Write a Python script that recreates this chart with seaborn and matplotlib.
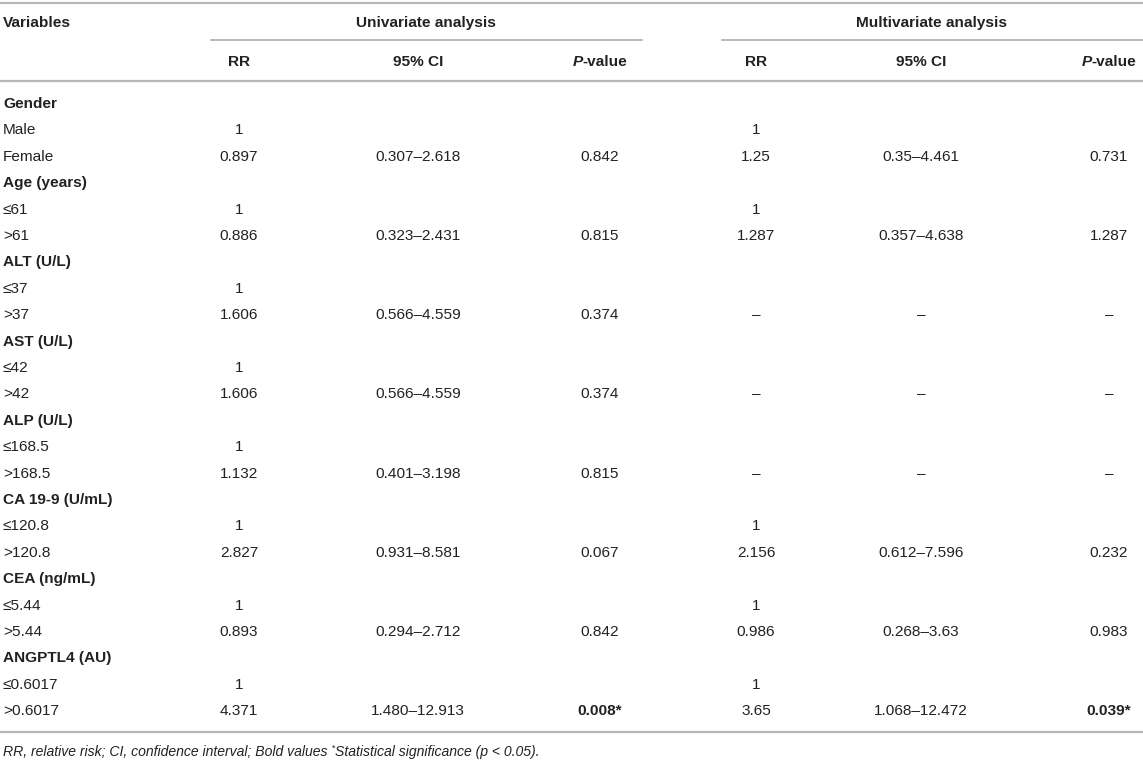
import numpy as np
import pandas as pd
import matplotlib
matplotlib.use("Agg")
import matplotlib.pyplot as plt
import seaborn as sns

# 表のデータ
groups = ["Gender", "Age (years)", "ALT (U/L)", "AST (U/L)", "ALP (U/L)",
          "CA 19-9 (U/mL)", "CEA (ng/mL)", "ANGPTL4 (AU)"]
ref_levels = ["Male", "≤61", "≤37", "≤42", "≤168.5", "≤120.8", "≤5.44", "≤0.6017"]
cmp_levels = ["Female", ">61", ">37", ">42", ">168.5", ">120.8", ">5.44", ">0.6017"]
uni_rr = ["0.897", "0.886", "1.606", "1.606", "1.132", "2.827", "0.893", "4.371"]
uni_ci = ["0.307–2.618", "0.323–2.431", "0.566–4.559", "0.566–4.559",
          "0.401–3.198", "0.931–8.581", "0.294–2.712", "1.480–12.913"]
uni_p = ["0.842", "0.815", "0.374", "0.374", "0.815", "0.067", "0.842", "0.008*"]
multi_rr = ["1.25", "1.287", "–", "–", "–", "2.156", "0.986", "3.65"]
multi_ci = ["0.35–4.461", "0.357–4.638", "–", "–", "–",
            "0.612–7.596", "0.268–3.63", "1.068–12.472"]
multi_p = ["0.731", "1.287", "–", "–", "–", "0.232", "0.983", "0.039*"]
in_multi = [True, True, False, False, False, True, True, True]
significant = [False] * 7 + [True]

col_names = ["RR", "95% CI", "P-value", "RR", "95% CI", "P-value"]
footnote = "RR, relative risk; CI, confidence interval; Bold values "
footnote2 = "Statistical significance (p < 0.05)."

# 行を組み立てる
rows = []
for i, g in enumerate(groups):
    rows.append(dict(label=g, kind="group", vals=[""] * 6, bold=False))
    rows.append(dict(label=ref_levels[i], kind="level",
                     vals=["1", "", "", "1" if in_multi[i] else "", "", ""], bold=False))
    rows.append(dict(label=cmp_levels[i], kind="level",
                     vals=[uni_rr[i], uni_ci[i], uni_p[i],
                           multi_rr[i], multi_ci[i], multi_p[i]],
                     bold=significant[i]))
df = pd.DataFrame(rows)

sns.set_theme(style="white")
plt.rcParams["font.family"] = ["Liberation Sans", "DejaVu Sans"]

W, H = 1143, 762
fig = plt.figure(figsize=(W / 100, H / 100), dpi=100)
ax = fig.add_axes([0, 0, 1, 1])
ax.set_xlim(0, W)
ax.set_ylim(H, 0)
ax.axis("off")

txt = "#222222"
rule = "#b8b8b8"
fs = 11.1
col_x = [239, 418, 600, 756, 921, 1109]
row0, row_h = 104, 26.4

# 罫線
ax.axhline(3, color=rule, lw=1.6)
ax.plot([211, 642], [40, 40], color=rule, lw=1.4)
ax.plot([722, W], [40, 40], color=rule, lw=1.4)
ax.axhline(81, color=rule, lw=1.6)
ax.axhline(732, color=rule, lw=1.6)

# ヘッダー
ax.text(3, 23, "Variables", fontsize=fs, fontweight="bold", color=txt, va="center")
ax.text(426, 23, "Univariate analysis", fontsize=fs, fontweight="bold",
        color=txt, va="center", ha="center")
ax.text(932, 23, "Multivariate analysis", fontsize=fs, fontweight="bold",
        color=txt, va="center", ha="center")

renderer = fig.canvas.get_renderer()

def pieces(x, y, parts, ha="center", **kw):
    objs = [ax.text(0, y, s, va="center", ha="left", **st, **kw) for s, st in parts]
    widths = [o.get_window_extent(renderer).width for o in objs]
    total = sum(widths)
    start = x - total / 2 if ha == "center" else x
    for o, w in zip(objs, widths):
        o.set_x(start)
        start += w
    return objs

for j, name in enumerate(col_names):
    if name == "P-value":
        pieces(col_x[j], 62, [("P", dict(fontstyle="italic")), ("-value", {})],
               fontsize=fs, fontweight="bold", color=txt)
    else:
        ax.text(col_x[j], 62, name, fontsize=fs, fontweight="bold", color=txt,
                ha="center", va="center")

# 本体
for i, r in df.iterrows():
    y = row0 + i * row_h
    ax.text(3, y, r["label"], fontsize=fs, color=txt, va="center",
            fontweight="bold" if r["kind"] == "group" else "normal")
    for j, v in enumerate(r["vals"]):
        if not v:
            continue
        bold = r["bold"] and j in (2, 5)
        ax.text(col_x[j], y, v, fontsize=fs, color=txt, ha="center", va="center",
                fontweight="bold" if bold else "normal")

# 脚注
t1 = ax.text(3, 752, footnote, fontsize=10.1, fontstyle="italic", color=txt, va="center")
w1 = t1.get_window_extent(renderer).width
t2 = ax.text(3 + w1, 748, "*", fontsize=6.5, color=txt, va="center")
w2 = t2.get_window_extent(renderer).width
ax.text(3 + w1 + w2, 752, footnote2, fontsize=10.1, fontstyle="italic", color=txt, va="center")

fig.savefig("out.png", dpi=100)
